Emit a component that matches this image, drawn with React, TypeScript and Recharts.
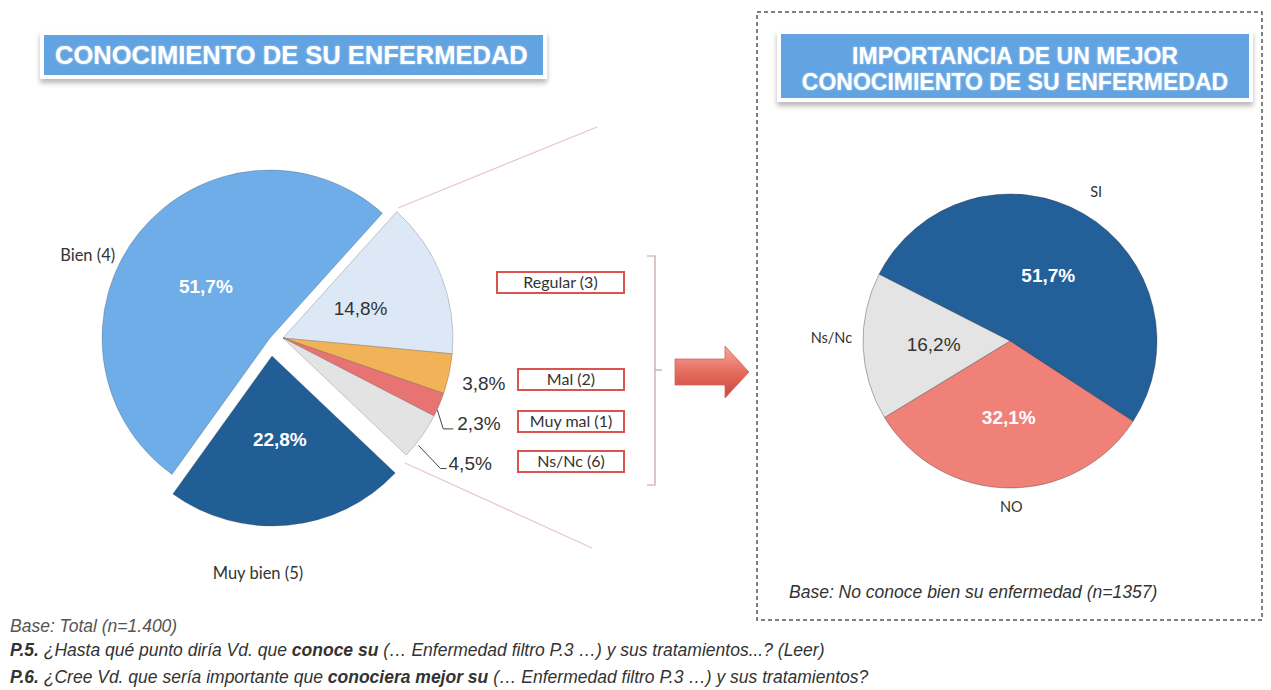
import React from 'react'
import { PieChart, Pie, Cell } from 'recharts'

// left chart: order follows the pie clockwise from the top-right cut
const leftCategories = ['Regular (3)', 'Mal (2)', 'Muy mal (1)', 'Ns/Nc (6)', 'Muy bien (5)', 'Bien (4)']
const leftValues = [14.8, 3.8, 2.3, 4.5, 22.8, 51.7]
const boxedCategories = ['Regular (3)', 'Mal (2)', 'Muy mal (1)', 'Ns/Nc (6)']

// right chart
const rightCategories = ['SI', 'NO', 'Ns/Nc']
const rightValues = [51.7, 32.1, 16.2]

const leftData = leftCategories.map((name, i) => ({ name, value: leftValues[i] }))
const rightData = rightCategories.map((name, i) => ({ name, value: rightValues[i] }))

const leftColors = ['#dde8f7', '#f1b258', '#e77372', '#e3e3e3', '#215e95', '#6eade8']
const rightColors = ['#23609a', '#ef8179', '#e4e4e4']

// exploded parts of the left pie: 0 = small answers, 1 = Muy bien, 2 = Bien
const leftGroup = [0, 0, 0, 0, 1, 2]
const groupCenters = [
  { cx: 283, cy: 338, r: 170 },
  { cx: 272, cy: 356, r: 170 },
  { cx: 270, cy: 338, r: 168 },
]

const RAD = Math.PI / 180
const fmt = (v: number) => v.toFixed(1).replace('.', ',') + '%'
const pctFont = "'Liberation Sans', Arial, sans-serif"
const catFont = "Lato, 'Open Sans', sans-serif"

const polar = (cx: number, cy: number, r: number, a: number) => ({
  x: cx + r * Math.cos(-a * RAD),
  y: cy + r * Math.sin(-a * RAD),
})

const renderLeftLabel = (p: any, g: number) => {
  const i = p.index
  if (leftGroup[i] !== g) return null
  const { cx, cy, midAngle, outerRadius } = p
  const v = leftValues[i]
  const e = polar(cx, cy, outerRadius, midAngle)
  const inPt = polar(cx, cy, outerRadius * 0.49, midAngle)

  if (i === 0 || i === 4 || i === 5) {
    const white = i !== 0
    return (
      <g key={`l${i}`}>
        <text x={inPt.x} y={inPt.y + 7} textAnchor="middle" fill={white ? '#fff' : '#333'} fontFamily={pctFont} fontSize={19} fontWeight={white ? 700 : 400}>
          {fmt(v)}
        </text>
        {i === 5 && (
          <text x={e.x - 24} y={e.y + 28} textAnchor="end" fill="#333" fontFamily={catFont} fontSize={16.5}>{leftCategories[i]}</text>
        )}
        {i === 4 && (
          <text x={e.x - 30} y={e.y + 54} textAnchor="middle" fill="#333" fontFamily={catFont} fontSize={16.5}>{leftCategories[i]}</text>
        )}
      </g>
    )
  }
  if (i === 1) {
    return (
      <text key="l1" x={e.x + 13} y={e.y + 16} fill="#333" fontFamily={pctFont} fontSize={19}>{fmt(v)}</text>
    )
  }
  if (i === 2) {
    return (
      <g key="l2">
        <polyline points={`${e.x - 2},${e.y + 5} ${e.x + 4},${e.y + 24} ${e.x + 14},${e.y + 24}`} fill="none" stroke="#444" strokeWidth={1} />
        <text x={e.x + 18} y={e.y + 25} fill="#333" fontFamily={pctFont} fontSize={19}>{fmt(v)}</text>
      </g>
    )
  }
  return (
    <g key="l3">
      <polyline points={`${e.x - 3},${e.y + 9} ${e.x + 19},${e.y + 32} ${e.x + 25},${e.y + 32}`} fill="none" stroke="#444" strokeWidth={1} />
      <text x={e.x + 27} y={e.y + 33} fill="#333" fontFamily={pctFont} fontSize={19}>{fmt(v)}</text>
    </g>
  )
}

const rightOut = [
  { r: 25, dx: 0, dy: 5, anchor: 'middle' },
  { r: 19, dx: 4, dy: 5, anchor: 'middle' },
  { r: 0, dx: -11, dy: -4, anchor: 'end' },
]

const renderRightLabel = (p: any) => {
  const i = p.index
  const { cx, cy, midAngle, outerRadius } = p
  const inPt = polar(cx, cy, outerRadius * 0.52, midAngle)
  const o = rightOut[i]
  const out = polar(cx, cy, outerRadius + o.r, midAngle)
  const dark = i === 2
  return (
    <g key={`r${i}`}>
      <text x={inPt.x} y={inPt.y + 7} textAnchor="middle" fill={dark ? '#333' : '#fff'} fontFamily={pctFont} fontSize={19} fontWeight={dark ? 400 : 700}>
        {fmt(rightValues[i])}
      </text>
      <text x={out.x + o.dx} y={out.y + o.dy} textAnchor={o.anchor as any} fill="#333" fontFamily={catFont} fontSize={14.5}>
        {rightCategories[i]}
      </text>
    </g>
  )
}

const boxRows = [
  { x: 497, y: 272 },
  { x: 518, y: 369 },
  { x: 518, y: 411 },
  { x: 518, y: 451 },
]

const TitleBox = ({ left, top, width, height, lines, size, align, padTop }: any) => (
  <div style={{
    position: 'absolute', left, top, width, height, background: '#fff', padding: 4, boxSizing: 'border-box',
    boxShadow: '0 4px 5px rgba(0,0,0,0.28)',
  }}>
    <div style={{
      width: '100%', height: '100%', background: '#62a4e2', color: '#fff', display: 'flex', flexDirection: 'column',
      justifyContent: 'center', alignItems: align, fontFamily: pctFont, fontWeight: 700, fontSize: size,
      lineHeight: '26px', paddingLeft: align === 'flex-start' ? 11 : 0, paddingTop: padTop || 0, boxSizing: 'border-box',
      textShadow: '0 0 2px rgba(255,255,255,0.6)',
    }}>
      {lines.map((l: string) => <div key={l}>{l}</div>)}
    </div>
  </div>
)

const noteStyle: React.CSSProperties = {
  position: 'absolute', fontFamily: "'Liberation Sans Narrow', 'Liberation Sans', sans-serif", fontStyle: 'italic',
  fontSize: 17.5, lineHeight: '20px', color: '#333', whiteSpace: 'nowrap',
}

export default function App() {
  return (
    <div style={{ position: 'absolute', left: 0, top: 0, width: 1271, height: 690, background: '#fff', overflow: 'hidden' }}>
      <PieChart width={1271} height={690} margin={{ top: 0, right: 0, bottom: 0, left: 0 }} style={{ position: 'absolute', left: 0, top: 0 }}>
        {groupCenters.map((c, g) => (
          <Pie
            key={g}
            data={leftData}
            dataKey="value"
            cx={c.cx}
            cy={c.cy}
            outerRadius={c.r}
            startAngle={48}
            endAngle={-312}
            isAnimationActive={false}
            labelLine={false}
            label={(p: any) => renderLeftLabel(p, g)}
          >
            {leftData.map((d, i) => (
              <Cell
                key={d.name}
                fill={leftGroup[i] === g ? leftColors[i] : 'transparent'}
                stroke={leftGroup[i] === g ? 'rgba(60,60,60,0.25)' : 'none'}
                strokeWidth={1}
              />
            ))}
          </Pie>
        ))}
        <Pie
          data={rightData}
          dataKey="value"
          cx={1010}
          cy={341}
          outerRadius={147}
          startAngle={153}
          endAngle={-207}
          isAnimationActive={false}
          labelLine={false}
          label={renderRightLabel}
        >
          {rightData.map((d, i) => (
            <Cell key={d.name} fill={rightColors[i]} stroke="rgba(40,40,40,0.35)" strokeWidth={1} />
          ))}
        </Pie>
      </PieChart>

      <svg width={1271} height={690} style={{ position: 'absolute', left: 0, top: 0, pointerEvents: 'none' }}>
        <defs>
          <linearGradient id="arrowGrad" x1="0" y1="0" x2="0" y2="1">
            <stop offset="0%" stopColor="#f5a79c" />
            <stop offset="55%" stopColor="#e4675a" />
            <stop offset="100%" stopColor="#c9473c" />
          </linearGradient>
        </defs>
        <line x1={398} y1={208} x2={597} y2={127} stroke="#e6c5c5" strokeWidth={1.2} />
        <line x1={405} y1={463} x2={592} y2={548} stroke="#e6c5c5" strokeWidth={1.2} />
        {boxedCategories.map((c, i) => (
          <g key={c}>
            <rect x={boxRows[i].x} y={boxRows[i].y} width={624 - boxRows[i].x} height={21} fill="#fff" stroke="#d9534f" strokeWidth={2} />
            <text x={(boxRows[i].x + 624) / 2} y={boxRows[i].y + 16} textAnchor="middle" fill="#333" fontFamily={catFont} fontSize={16}>{c}</text>
          </g>
        ))}
        <polyline points="647,256 655,256 655,485 647,485" fill="none" stroke="#c9a0a0" strokeWidth={1.2} />
        <line x1={655} y1={370} x2={662} y2={370} stroke="#c9a0a0" strokeWidth={1.2} />
        <polygon points="675,359 725,359 725,346 749,372 725,398 725,385 675,385" fill="url(#arrowGrad)" stroke="#d0685d" strokeWidth={0.8} />
        <rect x={757} y={12} width={505} height={608} fill="none" stroke="#555" strokeWidth={1.5} strokeDasharray="4 3" />
      </svg>

      <TitleBox left={40} top={31} width={507} height={48} lines={['CONOCIMIENTO DE SU ENFERMEDAD']} size={25.5} align="flex-start" />
      <TitleBox left={777} top={30} width={476} height={72} lines={['IMPORTANCIA DE UN MEJOR', 'CONOCIMIENTO DE SU ENFERMEDAD']} size={23} align="center" padTop={6} />

      <div style={{ ...noteStyle, left: 789, top: 582 }}>Base: No conoce bien su enfermedad (n=1357)</div>
      <div style={{ ...noteStyle, left: 10, top: 616, color: '#555' }}>Base: Total (n=1.400)</div>
      <div style={{ ...noteStyle, left: 10, top: 640 }}>
        <b>P.5.</b> ¿Hasta qué punto diría Vd. que <b>conoce su</b> (… Enfermedad filtro P.3 …) y sus tratamientos...? (Leer)
      </div>
      <div style={{ ...noteStyle, left: 10, top: 667 }}>
        <b>P.6.</b> ¿Cree Vd. que sería importante que <b>conociera mejor su</b> (… Enfermedad filtro P.3 …) y sus tratamientos?
      </div>
    </div>
  )
}
